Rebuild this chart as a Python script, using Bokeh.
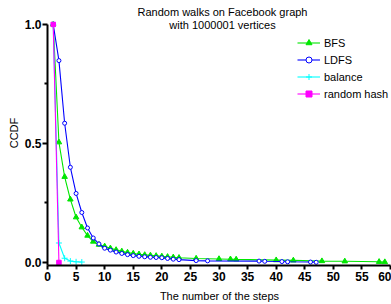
from bokeh.plotting import figure
from bokeh.models import Range1d, FixedTicker, Label, Legend, LegendItem, PrintfTickFormatter
from bokeh.embed import file_html
from bokeh.resources import INLINE

title_lines = ["Random walks on Facebook graph", "with 1000001 vertices"]
x_label = "The number of the steps"
y_label = "CCDF"

bfs_steps = [1, 2, 3, 4, 5, 6, 7, 8, 9, 10, 11, 12, 13, 14, 15, 16, 17, 18, 19, 20,
             21, 22, 23, 26, 30, 32, 33, 40, 43, 48, 52, 58, 59]
bfs_ccdf = [1.0, 0.505, 0.36, 0.265, 0.19, 0.148, 0.113, 0.088, 0.075, 0.068, 0.060,
            0.053, 0.047, 0.042, 0.038, 0.035, 0.032, 0.030, 0.028, 0.026, 0.024, 0.022,
            0.020, 0.017, 0.015, 0.014, 0.013, 0.010, 0.009, 0.006, 0.005, 0.003, 0.002]

ldfs_steps = [1, 2, 3, 4, 5, 6, 7, 8, 9, 10, 11, 12, 13, 14, 15, 16, 17, 18, 19, 20,
              21, 22, 23, 26, 28, 37, 38, 41, 42, 46, 47]
ldfs_ccdf = [1.0, 0.848, 0.585, 0.40, 0.29, 0.21, 0.145, 0.103, 0.078, 0.060, 0.052,
             0.044, 0.038, 0.033, 0.029, 0.026, 0.024, 0.022, 0.021, 0.020, 0.017, 0.014,
             0.012, 0.008, 0.007, 0.006, 0.005, 0.004, 0.003, 0.002, 0.001]

balance_steps = [1, 2, 3, 4, 5, 6]
balance_ccdf = [1.0, 0.082, 0.018, 0.006, 0.003, 0.002]

hash_steps = [1, 2]
hash_ccdf = [1.0, 0.0]

x_ticks = [0, 5, 10, 15, 20, 25, 30, 35, 40, 45, 50, 55, 60]
y_ticks = [0.0, 0.5, 1.0]
y_minor_ticks = [0.25, 0.75]

W, H = 391, 304
p = figure(width=W, height=H, output_backend="svg", toolbar_location=None,
           x_range=Range1d(0, 60.17), y_range=Range1d(-0.01255, 1.1004),
           min_border_left=47, min_border_right=0, min_border_top=0, min_border_bottom=38)
p.xgrid.visible = False
p.ygrid.visible = False
p.outline_line_color = None
p.background_fill_color = "white"

FONT = "Liberation Sans"

for ax in (p.xaxis[0], p.yaxis[0]):
    ax.axis_line_width = 2
    ax.axis_line_color = "black"
    ax.major_tick_line_width = 2
    ax.minor_tick_line_width = 2
    ax.major_tick_in = 0
    ax.minor_tick_in = 0
    ax.major_label_text_font = FONT
    ax.major_label_text_font_style = "bold"
    ax.major_label_text_font_size = "12px"
    ax.major_label_text_color = "black"
    ax.axis_label_text_font = FONT
    ax.axis_label_text_font_style = "normal"
    ax.axis_label_text_font_size = "11px"
    ax.axis_label_text_color = "black"

p.xaxis[0].ticker = FixedTicker(ticks=x_ticks)
p.xaxis[0].bounds = (0, 60)
p.xaxis[0].major_tick_out = 4
p.xaxis[0].minor_tick_out = 0
p.xaxis[0].major_label_standoff = 2
p.xaxis[0].axis_label = x_label
p.xaxis[0].axis_label_standoff = 6

p.yaxis[0].ticker = FixedTicker(ticks=y_ticks, minor_ticks=y_minor_ticks)
p.yaxis[0].formatter = PrintfTickFormatter(format="%.1f")
p.yaxis[0].bounds = (-0.01255, 1.0)
p.yaxis[0].major_tick_out = 5
p.yaxis[0].minor_tick_out = 3
p.yaxis[0].major_label_standoff = 1
p.yaxis[0].axis_label = y_label
p.yaxis[0].axis_label_standoff = 2

series = [
    ("BFS", bfs_steps, bfs_ccdf, "#00e600", "triangle", 5.5, "#00e600"),
    ("LDFS", ldfs_steps, ldfs_ccdf, "#0000ff", "circle", 4, "white"),
    ("balance", balance_steps, balance_ccdf, "#00ffff", "cross", 6, "#00ffff"),
    ("random hash", hash_steps, hash_ccdf, "#ff00ff", "square", 4.5, "#ff00ff"),
]

items = []
for name, xs, ys, color, marker, size, fill in series:
    ln = p.line(xs, ys, line_color=color, line_width=1.1)
    mk = p.scatter(xs, ys, marker=marker, size=size, line_color=color,
                   fill_color=fill, line_width=1)
    items.append(LegendItem(label=name, renderers=[ln, mk]))

legend = Legend(items=items, location=(250, 164), orientation="vertical",
                glyph_width=23, glyph_height=15, label_height=15, spacing=2,
                padding=0, margin=0, label_standoff=4,
                label_text_font=FONT, label_text_font_size="11px",
                label_text_color="black", border_line_color=None,
                background_fill_alpha=0)
p.add_layout(legend, "center")

for i, t in enumerate(title_lines):
    p.add_layout(Label(x=175, y=254 - 13 * i, x_units="screen", y_units="screen",
                       text=t, text_align="center", text_baseline="middle",
                       text_font=FONT, text_font_size="11px", text_color="black"))

open("out.html", "w").write(file_html(p, INLINE))
